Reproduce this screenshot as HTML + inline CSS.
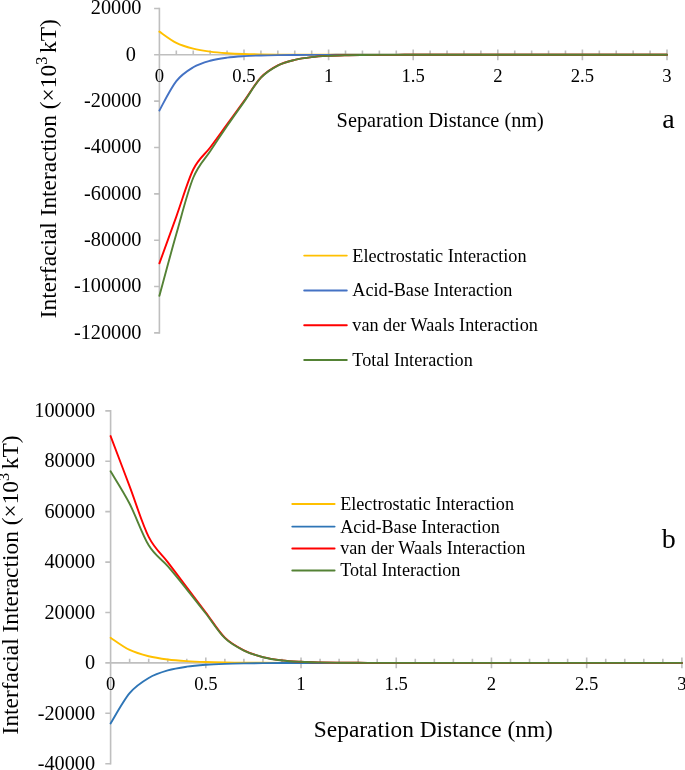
<!DOCTYPE html>
<html lang="en">
<head>
<meta charset="utf-8">
<title>Interfacial Interaction vs Separation Distance</title>
<style>
html,body{margin:0;padding:0;background:#fff;}
body{width:685px;height:770px;overflow:hidden;}
svg{display:block;}
svg text{font-family:'Liberation Serif', serif;fill:#000;}
</style>
</head>
<body>
<svg width="685" height="770" viewBox="0 0 685 770">
<rect width="685" height="770" fill="#fff"/>
<g id="chart-a">
<g stroke="#BFBFBF" stroke-width="1.60" fill="none">
<path d="M159.40,7.65 V333.70"/>
<path d="M154.10,54.80 H667.60"/>
<path d="M154.10,332.90 H159.40M154.10,286.55 H159.40M154.10,240.20 H159.40M154.10,193.85 H159.40M154.10,147.50 H159.40M154.10,101.15 H159.40M154.10,8.45 H159.40"/>
<path d="M176.32,50.60 V54.80M193.24,50.60 V54.80M210.16,50.60 V54.80M227.08,50.60 V54.80M244.00,49.40 V60.20M260.92,50.60 V54.80M277.84,50.60 V54.80M294.76,50.60 V54.80M311.68,50.60 V54.80M328.60,49.40 V60.20M345.52,50.60 V54.80M362.44,50.60 V54.80M379.36,50.60 V54.80M396.28,50.60 V54.80M413.20,49.40 V60.20M430.12,50.60 V54.80M447.04,50.60 V54.80M463.96,50.60 V54.80M480.88,50.60 V54.80M497.80,49.40 V60.20M514.72,50.60 V54.80M531.64,50.60 V54.80M548.56,50.60 V54.80M565.48,50.60 V54.80M582.40,49.40 V60.20M599.32,50.60 V54.80M616.24,50.60 V54.80M633.16,50.60 V54.80M650.08,50.60 V54.80M667.00,49.40 V60.20"/>
</g>
<g fill="none" stroke-width="1.90" stroke-linecap="round" stroke-linejoin="round">
<path stroke="#FFC000" d="M159.40,31.62C162.22,33.50 170.68,40.06 176.32,42.90C181.96,45.75 187.60,47.23 193.24,48.69C198.88,50.15 204.52,50.91 210.16,51.66C215.80,52.41 221.44,52.80 227.08,53.19C232.72,53.57 238.36,53.78 244.00,53.97C249.64,54.17 255.28,54.27 260.92,54.38C266.56,54.48 272.20,54.53 277.84,54.58C283.48,54.63 289.12,54.66 294.76,54.69C300.40,54.71 306.04,54.73 311.68,54.74C317.32,54.76 322.96,54.76 328.60,54.77C334.24,54.78 339.88,54.78 345.52,54.78C351.16,54.79 356.80,54.79 362.44,54.79C368.08,54.79 373.72,54.80 379.36,54.80C385.00,54.80 390.64,54.80 396.28,54.80C401.92,54.80 407.56,54.80 413.20,54.80C418.84,54.80 424.48,54.80 430.12,54.80C435.76,54.80 441.40,54.80 447.04,54.80C452.68,54.80 458.32,54.80 463.96,54.80C469.60,54.80 475.24,54.80 480.88,54.80C486.52,54.80 492.16,54.80 497.80,54.80C503.44,54.80 509.08,54.80 514.72,54.80C520.36,54.80 526.00,54.80 531.64,54.80C537.28,54.80 542.92,54.80 548.56,54.80C554.20,54.80 559.84,54.80 565.48,54.80C571.12,54.80 576.76,54.80 582.40,54.80C588.04,54.80 593.68,54.80 599.32,54.80C604.96,54.80 610.60,54.80 616.24,54.80C621.88,54.80 627.52,54.80 633.16,54.80C638.80,54.80 644.44,54.80 650.08,54.80C655.72,54.80 664.18,54.80 667.00,54.80"/>
<path stroke="#4472C4" d="M159.40,110.42C162.22,105.55 170.68,88.36 176.32,81.17C181.96,73.99 187.60,70.71 193.24,67.30C198.88,63.90 204.52,62.34 210.16,60.73C215.80,59.11 221.44,58.38 227.08,57.61C232.72,56.84 238.36,56.50 244.00,56.13C249.64,55.77 255.28,55.60 260.92,55.43C266.56,55.26 272.20,55.18 277.84,55.10C283.48,55.02 289.12,54.98 294.76,54.94C300.40,54.90 306.04,54.89 311.68,54.87C317.32,54.85 322.96,54.84 328.60,54.83C334.24,54.82 339.88,54.82 345.52,54.82C351.16,54.81 356.80,54.81 362.44,54.81C368.08,54.81 373.72,54.80 379.36,54.80C385.00,54.80 390.64,54.80 396.28,54.80C401.92,54.80 407.56,54.80 413.20,54.80C418.84,54.80 424.48,54.80 430.12,54.80C435.76,54.80 441.40,54.80 447.04,54.80C452.68,54.80 458.32,54.80 463.96,54.80C469.60,54.80 475.24,54.80 480.88,54.80C486.52,54.80 492.16,54.80 497.80,54.80C503.44,54.80 509.08,54.80 514.72,54.80C520.36,54.80 526.00,54.80 531.64,54.80C537.28,54.80 542.92,54.80 548.56,54.80C554.20,54.80 559.84,54.80 565.48,54.80C571.12,54.80 576.76,54.80 582.40,54.80C588.04,54.80 593.68,54.80 599.32,54.80C604.96,54.80 610.60,54.80 616.24,54.80C621.88,54.80 627.52,54.80 633.16,54.80C638.80,54.80 644.44,54.80 650.08,54.80C655.72,54.80 664.18,54.80 667.00,54.80"/>
<path stroke="#FF0000" d="M159.40,263.38C162.22,255.57 170.68,232.20 176.32,216.56C181.96,200.92 187.60,181.03 193.24,169.52C198.88,158.01 204.52,155.03 210.16,147.50C215.80,139.97 221.44,132.05 227.08,124.33C232.72,116.60 238.36,108.95 244.00,101.15C249.64,93.35 255.28,83.46 260.92,77.51C266.56,71.56 272.20,68.40 277.84,65.46C283.48,62.52 289.12,61.29 294.76,59.90C300.40,58.51 306.04,57.79 311.68,57.12C317.32,56.44 322.96,56.15 328.60,55.84C334.24,55.53 339.88,55.40 345.52,55.26C351.16,55.12 356.80,55.07 362.44,55.01C368.08,54.95 373.72,54.92 379.36,54.89C385.00,54.86 390.64,54.85 396.28,54.83C401.92,54.82 407.56,54.81 413.20,54.80C418.84,54.79 424.48,54.80 430.12,54.80C435.76,54.80 441.40,54.80 447.04,54.80C452.68,54.80 458.32,54.80 463.96,54.80C469.60,54.80 475.24,54.80 480.88,54.80C486.52,54.80 492.16,54.80 497.80,54.80C503.44,54.80 509.08,54.80 514.72,54.80C520.36,54.80 526.00,54.80 531.64,54.80C537.28,54.80 542.92,54.80 548.56,54.80C554.20,54.80 559.84,54.80 565.48,54.80C571.12,54.80 576.76,54.80 582.40,54.80C588.04,54.80 593.68,54.80 599.32,54.80C604.96,54.80 610.60,54.80 616.24,54.80C621.88,54.80 627.52,54.80 633.16,54.80C638.80,54.80 644.44,54.80 650.08,54.80C655.72,54.80 664.18,54.80 667.00,54.80"/>
<path stroke="#548235" d="M159.40,295.82C162.22,285.52 170.68,253.72 176.32,234.05C181.96,214.37 187.60,191.57 193.24,177.76C198.88,163.96 204.52,159.85 210.16,151.22C215.80,142.59 221.44,134.21 227.08,125.99C232.72,117.77 238.36,109.93 244.00,101.89C249.64,93.84 255.28,83.78 260.92,77.72C266.56,71.66 272.20,68.51 277.84,65.54C283.48,62.58 289.12,61.33 294.76,59.93C300.40,58.53 306.04,57.81 311.68,57.13C317.32,56.45 322.96,56.16 328.60,55.85C334.24,55.53 339.88,55.40 345.52,55.26C351.16,55.12 356.80,55.07 362.44,55.01C368.08,54.95 373.72,54.92 379.36,54.89C385.00,54.86 390.64,54.85 396.28,54.83C401.92,54.82 407.56,54.81 413.20,54.80C418.84,54.79 424.48,54.80 430.12,54.80C435.76,54.80 441.40,54.80 447.04,54.80C452.68,54.80 458.32,54.80 463.96,54.80C469.60,54.80 475.24,54.80 480.88,54.80C486.52,54.80 492.16,54.80 497.80,54.80C503.44,54.80 509.08,54.80 514.72,54.80C520.36,54.80 526.00,54.80 531.64,54.80C537.28,54.80 542.92,54.80 548.56,54.80C554.20,54.80 559.84,54.80 565.48,54.80C571.12,54.80 576.76,54.80 582.40,54.80C588.04,54.80 593.68,54.80 599.32,54.80C604.96,54.80 610.60,54.80 616.24,54.80C621.88,54.80 627.52,54.80 633.16,54.80C638.80,54.80 644.44,54.80 650.08,54.80C655.72,54.80 664.18,54.80 667.00,54.80"/>
</g>
<g stroke-width="1.90" stroke-linecap="round">
<path stroke="#FFC000" d="M304.20,255.60 H346.80"/>
<path stroke="#4472C4" d="M304.20,290.50 H346.80"/>
<path stroke="#FF0000" d="M304.20,325.30 H346.80"/>
<path stroke="#548235" d="M304.20,360.00 H346.80"/>
</g>
<g font-size="18.20">
<text x="352.30" y="261.50">Electrostatic Interaction</text>
<text x="352.30" y="296.40">Acid-Base Interaction</text>
<text x="352.30" y="331.20">van der Waals Interaction</text>
<text x="352.30" y="365.90">Total Interaction</text>
</g>
<g font-size="20.30" text-anchor="end">
<text x="141.50" y="14.15">20000</text>
<text x="136.00" y="60.50">0</text>
<text x="141.50" y="106.85">-20000</text>
<text x="141.50" y="153.20">-40000</text>
<text x="141.50" y="199.55">-60000</text>
<text x="141.50" y="245.90">-80000</text>
<text x="141.50" y="292.25">-100000</text>
<text x="141.50" y="338.60">-120000</text>
</g>
<g font-size="18.67" text-anchor="middle">
<text x="159.40" y="82.10">0</text>
<text x="244.00" y="82.10">0.5</text>
<text x="328.60" y="82.10">1</text>
<text x="413.20" y="82.10">1.5</text>
<text x="497.80" y="82.10">2</text>
<text x="582.40" y="82.10">2.5</text>
<text x="667.00" y="82.10">3</text>
</g>
<text transform="translate(336.60,127.30) scale(1,1.000)" font-size="20.30">Separation Distance (nm)</text>
<text transform="translate(55.90,318.30) rotate(-90)" font-size="23.40">Interfacial Interaction (×10<tspan font-size="16.38" dy="-8.89">3</tspan><tspan dy="8.89" dx="3.60">kT)</tspan></text>
<text x="662.30" y="128.00" font-size="28.00">a</text>
</g>
<g id="chart-b">
<g stroke="#BFBFBF" stroke-width="1.60" fill="none">
<path d="M110.60,410.05 V764.52"/>
<path d="M105.30,662.90 H682.49"/>
<path d="M105.30,763.72 H110.60M105.30,713.31 H110.60M105.30,612.49 H110.60M105.30,562.08 H110.60M105.30,511.67 H110.60M105.30,461.26 H110.60M105.30,410.85 H110.60"/>
<path d="M129.64,658.70 V662.90M148.69,658.70 V662.90M167.73,658.70 V662.90M186.77,658.70 V662.90M205.81,657.50 V668.30M224.86,658.70 V662.90M243.90,658.70 V662.90M262.94,658.70 V662.90M281.99,658.70 V662.90M301.03,657.50 V668.30M320.07,658.70 V662.90M339.12,658.70 V662.90M358.16,658.70 V662.90M377.20,658.70 V662.90M396.25,657.50 V668.30M415.29,658.70 V662.90M434.33,658.70 V662.90M453.37,658.70 V662.90M472.42,658.70 V662.90M491.46,657.50 V668.30M510.50,658.70 V662.90M529.55,658.70 V662.90M548.59,658.70 V662.90M567.63,658.70 V662.90M586.68,657.50 V668.30M605.72,658.70 V662.90M624.76,658.70 V662.90M643.80,658.70 V662.90M662.85,658.70 V662.90M681.89,657.50 V668.30"/>
</g>
<g fill="none" stroke-width="1.90" stroke-linecap="round" stroke-linejoin="round">
<path stroke="#FFC000" d="M110.60,637.69C113.77,639.74 123.30,646.87 129.64,649.96C135.99,653.05 142.34,654.67 148.69,656.26C155.03,657.84 161.38,658.67 167.73,659.49C174.08,660.30 180.42,660.73 186.77,661.15C193.12,661.57 199.47,661.79 205.81,662.00C212.16,662.22 218.51,662.33 224.86,662.44C231.21,662.55 237.55,662.61 243.90,662.66C250.25,662.72 256.60,662.75 262.94,662.78C269.29,662.81 275.64,662.82 281.99,662.84C288.33,662.85 294.68,662.86 301.03,662.87C307.38,662.88 313.73,662.88 320.07,662.88C326.42,662.89 332.77,662.89 339.12,662.89C345.46,662.89 351.81,662.89 358.16,662.90C364.51,662.90 370.85,662.90 377.20,662.90C383.55,662.90 389.90,662.90 396.25,662.90C402.59,662.90 408.94,662.90 415.29,662.90C421.64,662.90 427.98,662.90 434.33,662.90C440.68,662.90 447.03,662.90 453.37,662.90C459.72,662.90 466.07,662.90 472.42,662.90C478.76,662.90 485.11,662.90 491.46,662.90C497.81,662.90 504.16,662.90 510.50,662.90C516.85,662.90 523.20,662.90 529.55,662.90C535.89,662.90 542.24,662.90 548.59,662.90C554.94,662.90 561.28,662.90 567.63,662.90C573.98,662.90 580.33,662.90 586.68,662.90C593.02,662.90 599.37,662.90 605.72,662.90C612.07,662.90 618.41,662.90 624.76,662.90C631.11,662.90 637.46,662.90 643.80,662.90C650.15,662.90 656.50,662.90 662.85,662.90C669.19,662.90 678.72,662.90 681.89,662.90"/>
<path stroke="#2E75B6" d="M110.60,723.39C113.77,718.35 123.30,700.71 129.64,693.15C135.99,685.58 142.34,681.80 148.69,678.02C155.03,674.24 161.38,672.35 167.73,670.46C174.08,668.57 180.42,667.63 186.77,666.68C193.12,665.74 199.47,665.26 205.81,664.79C212.16,664.32 218.51,664.08 224.86,663.85C231.21,663.61 237.55,663.49 243.90,663.37C250.25,663.25 256.60,663.20 262.94,663.14C269.29,663.08 275.64,663.05 281.99,663.02C288.33,662.99 294.68,662.97 301.03,662.96C307.38,662.94 313.73,662.94 320.07,662.93C326.42,662.92 332.77,662.92 339.12,662.91C345.46,662.91 351.81,662.91 358.16,662.91C364.51,662.91 370.85,662.90 377.20,662.90C383.55,662.90 389.90,662.90 396.25,662.90C402.59,662.90 408.94,662.90 415.29,662.90C421.64,662.90 427.98,662.90 434.33,662.90C440.68,662.90 447.03,662.90 453.37,662.90C459.72,662.90 466.07,662.90 472.42,662.90C478.76,662.90 485.11,662.90 491.46,662.90C497.81,662.90 504.16,662.90 510.50,662.90C516.85,662.90 523.20,662.90 529.55,662.90C535.89,662.90 542.24,662.90 548.59,662.90C554.94,662.90 561.28,662.90 567.63,662.90C573.98,662.90 580.33,662.90 586.68,662.90C593.02,662.90 599.37,662.90 605.72,662.90C612.07,662.90 618.41,662.90 624.76,662.90C631.11,662.90 637.46,662.90 643.80,662.90C650.15,662.90 656.50,662.90 662.85,662.90C669.19,662.90 678.72,662.90 681.89,662.90"/>
<path stroke="#FF0000" d="M110.60,436.06C113.77,444.46 123.30,469.66 129.64,486.46C135.99,503.27 142.34,524.27 148.69,536.88C155.03,549.48 161.38,553.68 167.73,562.08C174.08,570.48 180.42,578.88 186.77,587.28C193.12,595.69 199.47,604.09 205.81,612.49C212.16,620.89 218.51,631.39 224.86,637.69C231.21,644.00 237.55,647.06 243.90,650.30C250.25,653.53 256.60,655.42 262.94,657.10C269.29,658.78 275.64,659.60 281.99,660.38C288.33,661.16 294.68,661.43 301.03,661.77C307.38,662.10 313.73,662.24 320.07,662.40C326.42,662.55 332.77,662.61 339.12,662.67C345.46,662.74 351.81,662.77 358.16,662.80C364.51,662.83 370.85,662.85 377.20,662.86C383.55,662.88 389.90,662.89 396.25,662.90C402.59,662.91 408.94,662.90 415.29,662.90C421.64,662.90 427.98,662.90 434.33,662.90C440.68,662.90 447.03,662.90 453.37,662.90C459.72,662.90 466.07,662.90 472.42,662.90C478.76,662.90 485.11,662.90 491.46,662.90C497.81,662.90 504.16,662.90 510.50,662.90C516.85,662.90 523.20,662.90 529.55,662.90C535.89,662.90 542.24,662.90 548.59,662.90C554.94,662.90 561.28,662.90 567.63,662.90C573.98,662.90 580.33,662.90 586.68,662.90C593.02,662.90 599.37,662.90 605.72,662.90C612.07,662.90 618.41,662.90 624.76,662.90C631.11,662.90 637.46,662.90 643.80,662.90C650.15,662.90 656.50,662.90 662.85,662.90C669.19,662.90 678.72,662.90 681.89,662.90"/>
<path stroke="#548235" d="M110.60,471.34C113.77,476.75 123.30,491.43 129.64,503.77C135.99,516.11 142.34,534.94 148.69,545.35C155.03,555.76 161.38,558.90 167.73,566.23C174.08,573.56 180.42,581.44 186.77,589.31C193.12,597.19 199.47,605.34 205.81,613.48C212.16,621.63 218.51,632.00 224.86,638.18C231.21,644.35 237.55,647.36 243.90,650.53C250.25,653.71 256.60,655.57 262.94,657.22C269.29,658.87 275.64,659.67 281.99,660.44C288.33,661.20 294.68,661.46 301.03,661.79C307.38,662.12 313.73,662.26 320.07,662.41C326.42,662.56 332.77,662.61 339.12,662.68C345.46,662.75 351.81,662.77 358.16,662.80C364.51,662.83 370.85,662.85 377.20,662.86C383.55,662.88 389.90,662.89 396.25,662.90C402.59,662.91 408.94,662.90 415.29,662.90C421.64,662.90 427.98,662.90 434.33,662.90C440.68,662.90 447.03,662.90 453.37,662.90C459.72,662.90 466.07,662.90 472.42,662.90C478.76,662.90 485.11,662.90 491.46,662.90C497.81,662.90 504.16,662.90 510.50,662.90C516.85,662.90 523.20,662.90 529.55,662.90C535.89,662.90 542.24,662.90 548.59,662.90C554.94,662.90 561.28,662.90 567.63,662.90C573.98,662.90 580.33,662.90 586.68,662.90C593.02,662.90 599.37,662.90 605.72,662.90C612.07,662.90 618.41,662.90 624.76,662.90C631.11,662.90 637.46,662.90 643.80,662.90C650.15,662.90 656.50,662.90 662.85,662.90C669.19,662.90 678.72,662.90 681.89,662.90"/>
</g>
<g stroke-width="1.90" stroke-linecap="round">
<path stroke="#FFC000" d="M292.30,504.00 H334.60"/>
<path stroke="#2E75B6" d="M292.30,526.60 H334.60"/>
<path stroke="#FF0000" d="M292.30,548.50 H334.60"/>
<path stroke="#548235" d="M292.30,570.50 H334.60"/>
</g>
<g font-size="18.15">
<text x="340.20" y="509.90">Electrostatic Interaction</text>
<text x="340.20" y="532.50">Acid-Base Interaction</text>
<text x="340.20" y="554.40">van der Waals Interaction</text>
<text x="340.20" y="576.40">Total Interaction</text>
</g>
<g font-size="20.30" text-anchor="end">
<text x="95.10" y="417.05">100000</text>
<text x="95.10" y="467.46">80000</text>
<text x="95.10" y="517.87">60000</text>
<text x="95.10" y="568.28">40000</text>
<text x="95.10" y="618.69">20000</text>
<text x="95.10" y="669.10">0</text>
<text x="95.10" y="719.51">-20000</text>
<text x="95.10" y="769.92">-40000</text>
</g>
<g font-size="18.67" text-anchor="middle">
<text x="110.60" y="690.20">0</text>
<text x="205.81" y="690.20">0.5</text>
<text x="301.03" y="690.20">1</text>
<text x="396.25" y="690.20">1.5</text>
<text x="491.46" y="690.20">2</text>
<text x="586.68" y="690.20">2.5</text>
<text x="681.89" y="690.20">3</text>
</g>
<text transform="translate(313.80,736.60) scale(1,1.030)" font-size="23.40">Separation Distance (nm)</text>
<text transform="translate(18.00,734.40) rotate(-90)" font-size="23.40">Interfacial Interaction (×10<tspan font-size="16.38" dy="-8.89">3</tspan><tspan dy="8.89" dx="3.60">kT)</tspan></text>
<text x="661.80" y="547.80" font-size="28.00">b</text>
</g>
</svg>
</body>
</html>
